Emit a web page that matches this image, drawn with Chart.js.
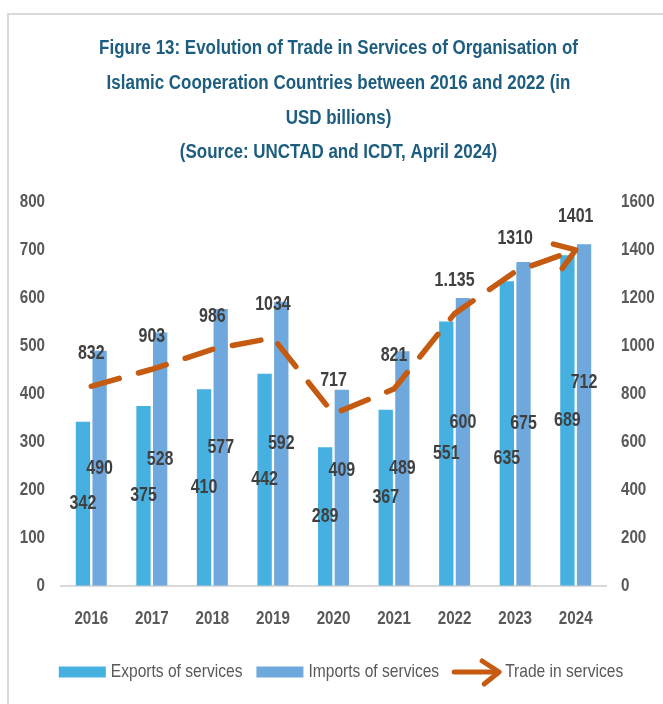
<!DOCTYPE html>
<html lang="en">
<head>
    <meta charset="UTF-8">
    <title>Trade in Services - OIC Countries</title>
    <style>
        body {
            margin: 0;
            background-color: #ffffff;
        }
        .frame {
            position: absolute;
            left: 7px;
            top: 13px;
            width: 670px;
            height: 700px;
            border-left: 2px solid #d9d9d9;
            border-top: 2px solid #d9d9d9;
        }
        .chart-box {
            position: absolute;
            left: 0;
            top: 0;
            width: 663px;
            height: 704px;
        }
    </style>
</head>
<body>
    <div class="frame"></div>
    <div class="chart-box">
        <canvas id="tradeChart"></canvas>
    </div>

    <script src="https://cdn.jsdelivr.net/npm/chart.js"></script>
    <script>
        // data
        const years = ['2016', '2017', '2018', '2019', '2020', '2021', '2022', '2023', '2024'];
        const exportsOfServices = [342, 375, 410, 442, 289, 367, 551, 635, 689];
        const importsOfServices = [490, 528, 577, 592, 409, 489, 600, 675, 712];
        const tradeInServices = [832, 903, 986, 1034, 717, 821, 1135, 1310, 1401];
        const tradeLabels = ['832', '903', '986', '1034', '717', '821', '1.135', '1310', '1401'];
        const leftTicks = [0, 100, 200, 300, 400, 500, 600, 700, 800];
        const rightTicks = [0, 200, 400, 600, 800, 1000, 1200, 1400, 1600];

        const titleLines = [
            'Figure 13: Evolution of Trade in Services of Organisation of',
            'Islamic Cooperation Countries between 2016 and 2022 (in',
            'USD billions)',
            '(Source: UNCTAD and ICDT, April 2024)'
        ];

        const FONT = "'Liberation Sans', Arial, sans-serif";
        const exportColor = '#46b0e0';
        const importColor = '#6fa8dc';
        const tradeColor = '#c55a11';
        const labelColor = '#404040';
        const axisColor = '#595959';

        // no narrow font installed: squeeze all canvas text horizontally (Arial -> Arial Narrow)
        const SQUEEZE = 0.82;
        function squeezeText(c) {
            const fill = c.fillText.bind(c);
            const measure = c.measureText.bind(c);
            c.fillText = function (text, x, y, maxWidth) {
                c.save();
                c.translate(x, y);
                c.scale(SQUEEZE, 1);
                if (maxWidth !== undefined) {
                    fill(text, 0, 0, maxWidth / SQUEEZE);
                } else {
                    fill(text, 0, 0);
                }
                c.restore();
            };
            c.measureText = function (text) {
                const m = measure(text);
                return {
                    width: m.width * SQUEEZE,
                    actualBoundingBoxAscent: m.actualBoundingBoxAscent,
                    actualBoundingBoxDescent: m.actualBoundingBoxDescent,
                    actualBoundingBoxLeft: m.actualBoundingBoxLeft * SQUEEZE,
                    actualBoundingBoxRight: m.actualBoundingBoxRight * SQUEEZE
                };
            };
        }

        // value labels on bars and above the line (some were hand-moved in the original)
        const valueLabels = {
            id: 'valueLabels',
            afterDatasetsDraw(chart, args, opts) {
                const ctx = chart.ctx;
                ctx.save();
                ctx.font = 'bold 19.5px ' + FONT;
                ctx.fillStyle = labelColor;
                ctx.textAlign = 'center';
                ctx.textBaseline = 'middle';
                [0, 1].forEach(di => {
                    const meta = chart.getDatasetMeta(di);
                    meta.data.forEach((bar, i) => {
                        const nudge = opts.nudge[di + '-' + i] || 0;
                        const y = (bar.y + bar.base) / 2 + nudge;
                        ctx.fillText(String(chart.data.datasets[di].data[i]), bar.x, y);
                    });
                });
                const lineMeta = chart.getDatasetMeta(2);
                lineMeta.data.forEach((pt, i) => {
                    ctx.fillText(tradeLabels[i], pt.x, pt.y - 33);
                });
                ctx.restore();
            }
        };

        // arrow head at the end of the trade line
        const lineArrow = {
            id: 'lineArrow',
            afterDatasetsDraw(chart) {
                const pts = chart.getDatasetMeta(2).data;
                const a = pts[pts.length - 2];
                const b = pts[pts.length - 1];
                const ang = Math.atan2(b.y - a.y, b.x - a.x);
                const len = 23;
                const spread = 0.6;
                const ctx = chart.ctx;
                ctx.save();
                ctx.strokeStyle = tradeColor;
                ctx.lineWidth = 5.5;
                ctx.lineCap = 'round';
                ctx.lineJoin = 'round';
                ctx.beginPath();
                ctx.moveTo(b.x - len * Math.cos(ang - spread), b.y - len * Math.sin(ang - spread));
                ctx.lineTo(b.x, b.y);
                ctx.lineTo(b.x - len * Math.cos(ang + spread), b.y - len * Math.sin(ang + spread));
                ctx.stroke();
                ctx.restore();
            }
        };

        // legend drawn by hand so the line entry can show an arrow
        const customLegend = {
            id: 'customLegend',
            afterDraw(chart) {
                const ctx = chart.ctx;
                const cy = 672;
                const items = [
                    { text: 'Exports of services', kind: 'box', color: exportColor },
                    { text: 'Imports of services', kind: 'box', color: importColor },
                    { text: 'Trade in services', kind: 'arrow', color: tradeColor }
                ];
                ctx.save();
                ctx.font = '19px ' + FONT;
                ctx.textBaseline = 'middle';
                const symW = 47, gap = 5, itemGap = 14;
                let total = 0;
                items.forEach((it, i) => {
                    it.w = ctx.measureText(it.text).width;
                    total += symW + gap + it.w + (i < items.length - 1 ? itemGap : 0);
                });
                let x = 341 - total / 2;
                items.forEach(it => {
                    if (it.kind === 'box') {
                        ctx.fillStyle = it.color;
                        ctx.fillRect(x, cy - 5.5, symW, 11);
                    } else {
                        ctx.strokeStyle = it.color;
                        ctx.lineWidth = 5;
                        ctx.lineCap = 'round';
                        ctx.lineJoin = 'round';
                        ctx.beginPath();
                        ctx.moveTo(x + 1, cy);
                        ctx.lineTo(x + symW - 4, cy);
                        ctx.stroke();
                        ctx.beginPath();
                        ctx.moveTo(x + symW - 18, cy - 11);
                        ctx.lineTo(x + symW - 1, cy);
                        ctx.lineTo(x + symW - 16, cy + 12);
                        ctx.stroke();
                    }
                    ctx.fillStyle = axisColor;
                    ctx.textAlign = 'left';
                    ctx.fillText(it.text, x + symW + gap, cy);
                    x += symW + gap + it.w + itemGap;
                });
                ctx.restore();
            }
        };

        const ctx = document.getElementById('tradeChart').getContext('2d');
        squeezeText(ctx);

        const tradeChart = new Chart(ctx, {
            data: {
                labels: years,
                datasets: [{
                    type: 'bar',
                    label: 'Exports of services',
                    data: exportsOfServices,
                    backgroundColor: exportColor,
                    yAxisID: 'y',
                    order: 2,
                    categoryPercentage: 0.55,
                    barPercentage: 0.86
                }, {
                    type: 'bar',
                    label: 'Imports of services',
                    data: importsOfServices,
                    backgroundColor: importColor,
                    yAxisID: 'y',
                    order: 2,
                    categoryPercentage: 0.55,
                    barPercentage: 0.86
                }, {
                    type: 'line',
                    label: 'Trade in services',
                    data: tradeInServices,
                    borderColor: tradeColor,
                    borderWidth: 5.5,
                    borderDash: [29, 20],
                    borderCapStyle: 'round',
                    tension: 0,
                    pointRadius: 0,
                    yAxisID: 'y1',
                    order: 1
                }]
            },
            options: {
                responsive: true,
                maintainAspectRatio: false,
                animation: false,
                layout: {
                    padding: { left: 14, right: 0, top: 0, bottom: 52 }
                },
                scales: {
                    x: {
                        grid: { display: false, drawTicks: false },
                        border: { display: true, color: '#d9d9d9', width: 2 },
                        ticks: {
                            color: axisColor,
                            font: { family: FONT, size: 18.5, weight: 'bold' },
                            padding: 22
                        }
                    },
                    y: {
                        position: 'left',
                        min: 0,
                        max: 800,
                        grid: { display: false, drawTicks: false },
                        border: { display: false },
                        afterBuildTicks(scale) {
                            scale.ticks = leftTicks.map(v => ({ value: v }));
                        },
                        afterFit(scale) { scale.width = 47; },
                        ticks: {
                            color: axisColor,
                            font: { family: FONT, size: 18.5, weight: 'bold' },
                            padding: 16,
                            callback: v => String(v)
                        }
                    },
                    y1: {
                        position: 'right',
                        min: 0,
                        max: 1600,
                        grid: { display: false, drawTicks: false },
                        border: { display: false },
                        afterBuildTicks(scale) {
                            scale.ticks = rightTicks.map(v => ({ value: v }));
                        },
                        afterFit(scale) { scale.width = 57; },
                        ticks: {
                            color: axisColor,
                            font: { family: FONT, size: 18.5, weight: 'bold' },
                            padding: 15,
                            callback: v => String(v)
                        }
                    }
                },
                plugins: {
                    legend: { display: false },
                    tooltip: { enabled: false },
                    title: {
                        display: true,
                        text: titleLines,
                        color: '#1d5d7f',
                        font: { family: FONT, size: 20.7, weight: 'bold', lineHeight: 1.68 },
                        padding: { top: 31, bottom: 32 }
                    },
                    valueLabels: {
                        nudge: { '1-4': -17, '1-6': -19, '0-7': 25, '1-8': -32 }
                    }
                }
            },
            plugins: [valueLabels, lineArrow, customLegend]
        });
    </script>
</body>
</html>
